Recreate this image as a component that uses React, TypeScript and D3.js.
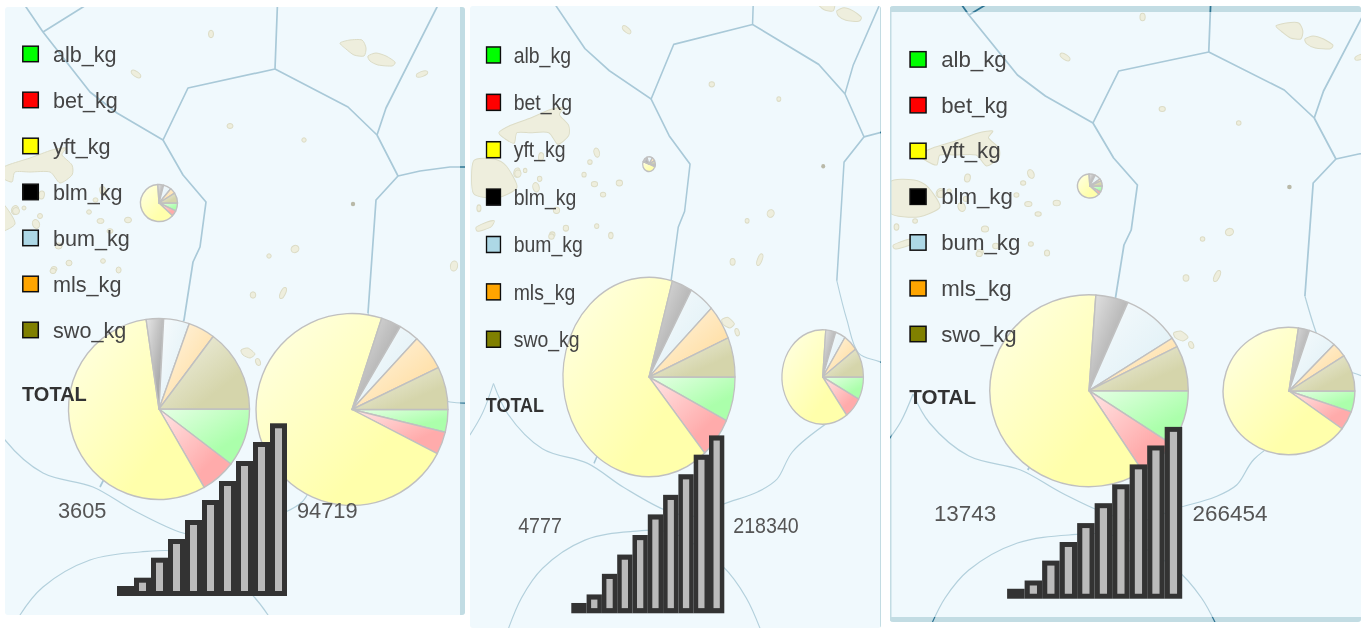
import React from 'react';
import * as d3 from 'd3';

// species, in the order the wedges run clockwise from 3 o'clock
const species = ['alb_kg', 'bet_kg', 'yft_kg', 'blm_kg', 'bum_kg', 'mls_kg', 'swo_kg'];
const speciesColors = ['#00ff00', '#ff0000', '#ffff00', '#000000', '#add8e6', '#ffa500', '#808000'];

// catch shares per pie (percent)
const panel1Small = [7, 5, 62, 5, 7, 5, 9];
const panel1Left = [10.4, 6.3, 56.1, 3.1, 4.6, 4.8, 14.8];
const panel1Right = [3.8, 3.8, 72.4, 3.4, 3.4, 6, 7.2];
const panel2Small = [3, 3, 50, 14, 14, 8, 8];
const panel2Left = [7.2, 6.6, 65.5, 3.8, 4.7, 5.7, 6.4];
const panel2Right = [7.8, 7.2, 61.2, 4, 4, 5.8, 10];
const panel3Small = [8, 4, 62, 8, 8, 3, 7];
const panel3Left = [9.4, 6.5, 60.2, 5.3, 9.4, 1.6, 7.6];
const panel3Right = [5.3, 4.8, 67.2, 2.7, 7, 3.7, 9.3];

const totalsLeft = ['3605', '4777', '13743'];
const totalsRight = ['94719', '218340', '266454'];

// stepped bar glyph, same in all three panels
const barValues = [5, 13.3, 33.3, 52, 71, 91, 110, 130, 149, 167.7];

// background map, in the coordinates of the first panel
const borderLines: [number, number][][] = [
  [[14, -10], [26, 7], [43, 32], [90, 92], [117, 113], [163, 140], [188, 88], [275, 69], [278, -10]],
  [[43, 32], [83, 7], [100, -4]],
  [[275, 69], [348, 107], [377, 135], [398, 176], [420, 171], [450, 167], [470, 167]],
  [[377, 135], [386, 108], [437, 7], [445, -10]],
  [[398, 176], [376, 200], [368, 313]],
  [[163, 140], [183, 175], [206, 202], [200, 247], [193, 262], [184, 320], [100, 487]],
];
const borderArcs: [number, number][][] = [
  [[368, 313], [379, 350], [392, 382], [415, 390], [450, 402], [470, 403]],
  [[-37, 460], [-23, 439], [-11, 411]],
  [[-11, 411], [5, 440], [43, 473], [93, 487], [133, 510], [183, 533],
    [215, 537], [242, 526], [281, 514], [302, 502], [319, 476], [360, 447]],
  [[4, 648], [20, 615], [43, 587], [90, 560], [140, 552], [185, 553], [242, 585], [268, 615], [285, 648]],
];
const landShapes: [number, number][][] = [
  [[340, 43], [350, 40], [362, 40], [366, 48], [364, 56], [354, 55], [346, 49]],
  [[368, 56], [376, 53], [386, 56], [395, 62], [392, 66], [378, 65], [370, 61]],
  [[-5, 172], [8, 165], [30, 158], [52, 150], [66, 148], [62, 155], [72, 165], [72, 175], [60, 183], [50, 172], [30, 172], [15, 172], [12, 182], [2, 178]],
  [[-33, 199], [-10, 197], [3.5, 204], [15, 224], [-6, 234], [-33, 230]],
  [[241, 350], [248, 348], [255, 354], [250, 358], [243, 355]],
  [[-30, 262], [-18, 257], [-10, 256], [-14, 262], [-28, 266]],
];
// x, y, rx, ry, angle
const islets: [number, number, number, number, number][] = [
  [211, 34, 2.5, 3.8, 0], [136, 74, 5.5, 2.5, 35], [230, 126, 3, 2.5, 0], [304, 140, 2.2, 2.2, 0],
  [295, 249, 4, 3.5, -30], [269, 256, 2.2, 2.2, 0], [253, 295, 2.8, 3.2, 0], [283, 293, 2.5, 6, 25],
  [422, 74, 6, 2.5, -20], [454, 266, 3.6, 5, 10], [258, 362, 2.3, 3.6, -20],
  [103, 191, 3, 4.5, -20], [95.5, 200, 2.5, 2.2, 0], [100.5, 221, 3.5, 2.5, 0], [128, 220, 3.5, 2.8, 0],
  [110, 231, 3, 2.3, 0], [58.6, 246, 3.5, 3, 0], [36, 224, 3.5, 4.5, -20], [41.6, 195, 2.8, 4, 10],
  [15, 210, 3.5, 4.5, 20], [89, 212, 2.4, 2.2, 0], [54, 269, 3, 2.5, 0], [103, 261, 2.4, 2.3, 0],
  [118.6, 270, 2.5, 3, 0], [-9, 238, 2.3, 2.3, 0], [-27, 244, 2.3, 3.2, 0], [16, 211, 3.5, 3.5, 0],
  [24, 208, 2, 2, 0], [40, 216, 2.5, 2.5, 0], [69, 263, 3, 2.8, 0], [53, 271, 3, 2.6, 0],
];

const lineGen = d3.line();
const arcLineGen = d3.line().curve(d3.curveCatmullRom);
const landGen = d3.line().curve(d3.curveCardinalClosed.tension(0.3));

const pieGen = d3.pie<number>().sort(null).startAngle(Math.PI / 2).endAngle(Math.PI * 2.5);
const arcGen = d3.arc<d3.PieArcDatum<number>>().innerRadius(0);

const rowY = d3.scaleLinear().domain([0, species.length - 1]).range([54, 330]);
const barX = d3.scaleBand<number>().domain(barValues.map((_, i) => i)).range([117, 287]);
const barY = d3.scaleLinear().domain([0, 167.7]).range([593.5, 425.8]);

const panels = [
  {
    box: { x: 5, y: 7, w: 460, h: 608 },
    bands: [{ x: 460, y: 7, w: 5, h: 608 }],
    map: [0, 0, 1, 1],
    over: [0, 0, 1, 1],
    pies: [
      { cx: 159, cy: 203, r: 18.5, values: panel1Small },
      { cx: 159, cy: 409, r: 90.5, values: panel1Left },
      { cx: 352, cy: 409.5, r: 96, values: panel1Right },
    ],
  },
  {
    box: { x: 470, y: 6, w: 411, h: 622 },
    bands: [{ x: 880, y: 6, w: 1, h: 622 }],
    map: [503.4, -47.95, 0.906, 1.05],
    over: [466, -0.6, 0.9, 1.03],
    pies: [
      { cx: 160.7, cy: 202, r: 7, values: panel2Small },
      { cx: 160.7, cy: 404.7, r: 95, values: panel2Left },
      { cx: 352.4, cy: 404.7, r: 45, values: panel2Right },
    ],
  },
  {
    box: { x: 890, y: 6, w: 471, h: 616 },
    bands: [
      { x: 890, y: 6, w: 471, h: 6 },
      { x: 890, y: 617, w: 471, h: 5 },
      { x: 890, y: 6, w: 1.5, h: 616 },
    ],
    map: [924.4, -17, 1.034, 1],
    over: [886.6, 5.7, 1.03, 0.995],
    pies: [
      { cx: 160, cy: 203, r: 12, values: panel3Small },
      { cx: 159.2, cy: 407.7, r: 96, values: panel3Left },
      { cx: 352.6, cy: 408, r: 63.7, values: panel3Right },
    ],
  },
];

const toTransform = ([tx, ty, sx, sy]: number[]) => `translate(${tx},${ty}) scale(${sx},${sy})`;

const Borders = ({ stroke, arcStroke }: { stroke: string; arcStroke: string }) => (
  <g fill="none" strokeLinejoin="round">
    {borderLines.map((pts, i) => <path key={i} d={lineGen(pts) || ''} stroke={stroke} strokeWidth={1.7} />)}
    {borderArcs.map((pts, i) => <path key={i} d={arcLineGen(pts) || ''} stroke={arcStroke} strokeWidth={1.2} />)}
  </g>
);

const App = () => {
  const font = '"Liberation Sans", Arial, sans-serif';
  return (
    <svg width={1367} height={628} style={{ position: 'absolute', left: 0, top: 0, background: '#fff' }} fontFamily={font}>
      <defs>
        <filter id="soft" x="0" y="0" width="1" height="1">
          <feGaussianBlur stdDeviation="0.55" />
        </filter>
        {species.map((s, i) => (
          <linearGradient key={s} id={`grad-${s}`} x1="0" y1="0" x2="1" y2="1">
            <stop offset="0" stopColor={d3.interpolateRgb('#fff', speciesColors[i])(0.1)} />
            <stop offset="0.7" stopColor={d3.interpolateRgb('#fff', speciesColors[i])(0.33)} />
          </linearGradient>
        ))}
        {panels.map((p, i) => (
          <React.Fragment key={i}>
            <clipPath id={`clip-${i}`}>
              <rect x={p.box.x} y={p.box.y} width={p.box.w} height={p.box.h} rx={3} />
            </clipPath>
            <clipPath id={`band-${i}`}>
              {p.bands.map((b, j) => <rect key={j} x={b.x} y={b.y} width={b.w} height={b.h} />)}
            </clipPath>
          </React.Fragment>
        ))}
      </defs>

      {panels.map((p, i) => (
        <g key={i}>
          <g filter="url(#soft)">
            <g clipPath={`url(#clip-${i})`}>
              <rect x={p.box.x} y={p.box.y} width={p.box.w} height={p.box.h} fill="#f0f9fd" />
              <g transform={toTransform(p.map)}>
                {landShapes.map((pts, j) => (
                  <path key={j} d={landGen(pts) || ''} fill="#eeeedd" stroke="#dcdcc6" strokeWidth={1} />
                ))}
                {islets.map(([x, y, rx, ry, a], j) => (
                  <ellipse key={j} cx={x} cy={y} rx={rx} ry={ry} transform={`rotate(${a},${x},${y})`}
                    fill="#eeeedd" stroke="#dcdcc6" strokeWidth={1} />
                ))}
                <circle cx={353} cy={204} r={2.2} fill="#b9b9a8" />
                <Borders stroke="#a9c9d8" arcStroke="#b3d0dc" />
              </g>
              {p.bands.map((b, j) => <rect key={j} x={b.x} y={b.y} width={b.w} height={b.h} fill="#c2dce3" />)}
              <g clipPath={`url(#band-${i})`}>
                <g transform={toTransform(p.map)}>
                  <Borders stroke="#2f7493" arcStroke="#2f7493" />
                </g>
              </g>
              <g transform={toTransform(p.map)}>
                {p.pies.map((pie, j) => (
                  <g key={j} transform={`translate(${pie.cx},${pie.cy})`}>
                    {pieGen(pie.values).map((d, k) => (
                      <path key={k} d={arcGen({ ...d, outerRadius: pie.r } as any) || ''}
                        fill={`url(#grad-${species[k]})`} stroke="#c0c0c0" strokeWidth={1.4} strokeLinejoin="round" />
                    ))}
                  </g>
                ))}
              </g>
            </g>

            <g transform={toTransform(p.over)}>
              {species.map((s, k) => (
                <g key={s}>
                  <rect x={22.8} y={rowY(k) - 7.8} width={15.5} height={15.5} fill={speciesColors[k]} stroke="#111" strokeWidth={1.5} />
                  <text x={53} y={rowY(k) + 7.5} fontSize={21.6} fill="#444">{s}</text>
                </g>
              ))}
              <text x={22} y={400.5} fontSize={20} fontWeight="bold" fill="#333">TOTAL</text>
            </g>
          </g>

          <g transform={toTransform(p.over)}>
            {barValues.map((v, k) => (
              <rect key={k} x={(barX(k) as number) + 2.5} y={barY(v)} width={barX.bandwidth() - 5} height={barY(0) - barY(v)}
                fill="#bbbbbb" stroke="#333333" strokeWidth={5} />
            ))}
            <g filter="url(#soft)">
              <text x={106.5} y={518} fontSize={21.8} fill="#555" textAnchor="end">{totalsLeft[i]}</text>
              <text x={297} y={518} fontSize={21.8} fill="#555">{totalsRight[i]}</text>
            </g>
          </g>
        </g>
      ))}
    </svg>
  );
};

export default App;
